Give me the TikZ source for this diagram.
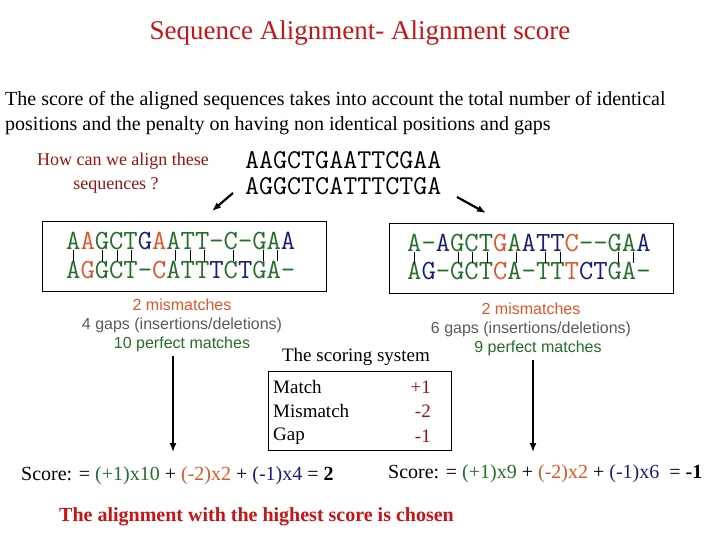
\documentclass[tikz,border=0pt]{standalone}
\usepackage{fontspec}
\usetikzlibrary{arrows.meta}
\setmainfont{Liberation Serif}
\newfontfamily\arialf{Liberation Sans}
\definecolor{sg}{RGB}{35,110,40}
\definecolor{sr}{RGB}{225,85,40}
\definecolor{sb}{RGB}{25,30,120}
\definecolor{tred}{RGB}{200,20,20}
\definecolor{dred}{RGB}{150,20,20}
\definecolor{sgray}{RGB}{90,90,90}
\newcommand{\G}[1]{\textcolor{sg}{#1}}
\newcommand{\R}[1]{\textcolor{sr}{#1}}
\newcommand{\B}[1]{\textcolor{sb}{#1}}
\begin{document}
\begin{tikzpicture}[x=1pt,y=-1pt,
  serif/.style={inner sep=0pt,font=\fontsize{20}{22}\selectfont},
  seq/.style={inner sep=0pt,anchor=west,font=\ttfamily\fontsize{27.8}{30}\selectfont},
  stat/.style={inner sep=0pt,font=\arialf\fontsize{16}{18}\selectfont},
  box/.style={draw,line width=0.9pt},
  arr/.style={-{Latex[length=9pt,width=7pt]},line width=2.2pt}]
\useasboundingbox (0,0) rectangle (720,540);
\node[serif,text=tred,font=\fontsize{27}{30}\selectfont] (title) at (360,33) {Sequence Alignment- Alignment score};
\node[serif,anchor=west] (p1) at (5,101) {The score of the aligned sequences takes into account the total number of identical};
\node[serif,anchor=west] (p2) at (5,126) {positions and the penalty on having non identical positions and gaps};
\node[serif,text=dred,font=\fontsize{18}{20}\selectfont] (q1) at (123,161) {How can we align these};
\node[serif,text=dred,font=\fontsize{18}{20}\selectfont] (q2) at (116,185) {sequences ?};
\node[seq,font=\ttfamily\fontsize{27.2}{30}\selectfont] (s1) at (245,160) {AAGCTGAATTCGAA};
\node[seq,font=\ttfamily\fontsize{27.2}{30}\selectfont] (s2) at (245,186) {AGGCTCATTTCTGA};
\coordinate (la) at (233,193); \coordinate (lb) at (212,211);
\coordinate (ra) at (457,197); \coordinate (rb) at (486,213);
\draw[arr] (la) -- (lb);
\draw[arr] (ra) -- (rb);
% left box
\node[box,minimum width=284pt,minimum height=70pt,anchor=north west] (lbox) at (42,221) {};
\node[seq] (l1) at (66,241) {\G{A}\R{A}\G{GCT}\B{G}\R{A}\G{ATT-C-GA}\B{A}};
\node[seq] (l2) at (66,270) {\G{A}\R{G}\G{GCT-}\R{C}\G{ATT}\B{T}\G{C}\B{T}\G{GA-}};
\foreach \i in {1,3,4,5,8,9,10,12,14,15}
  \draw[line width=0.5pt] ({66+14.58*(\i-0.5)},250) -- ({66+14.58*(\i-0.5)},261);
% right box
\node[box,minimum width=284pt,minimum height=70pt,anchor=north west] (rbox) at (389,223) {};
\node[seq] (r1) at (407,243) {\G{A-}\B{A}\G{GCT}\R{G}\G{A}\B{ATT}\R{C}\G{--GA}\B{A}};
\node[seq] (r2) at (407,271) {\G{A}\B{G}\G{-GCT}\R{C}\G{A-TT}\R{T}\B{CT}\G{GA-}};
\foreach \i in {1,4,5,6,8,10,11,15,16}
  \draw[line width=0.5pt] ({407+14.58*(\i-0.5)},252) -- ({407+14.58*(\i-0.5)},263);
% stats
\node[stat,text=sr] (lm) at (182,305) {2 mismatches};
\node[stat,text=sgray] (lg) at (182,325) {4 gaps (insertions/deletions)};
\node[stat,text=sg] (lp) at (182,344) {10 perfect matches};
\node[stat,text=sr] (rm) at (531,309) {2 mismatches};
\node[stat,text=sgray] (rg) at (531,329) {6 gaps (insertions/deletions)};
\node[stat,text=sg] (rp) at (538,348) {9 perfect matches};
% scoring system
\node[serif,font=\fontsize{19}{21}\selectfont] (ss) at (356,357) {The scoring system};
\node[box,minimum width=183pt,minimum height=79pt,anchor=north west] (tbl) at (268,371) {};
\node[serif,anchor=west,font=\fontsize{19}{21}\selectfont] (m1) at (273,387) {Match};
\node[serif,anchor=west,font=\fontsize{19}{21}\selectfont] (m2) at (273,411) {Mismatch};
\node[serif,anchor=west,font=\fontsize{19}{21}\selectfont] (m3) at (273,436) {Gap};
\node[serif,anchor=east,text=dred,font=\fontsize{19}{21}\selectfont] (v1) at (431,387) {+1};
\node[serif,anchor=east,text=dred,font=\fontsize{19}{21}\selectfont] (v2) at (431,411) {-2};
\node[serif,anchor=east,text=dred,font=\fontsize{19}{21}\selectfont] (v3) at (431,436) {-1};
% vertical arrows
\coordinate (va1) at (173,356); \coordinate (vb1) at (173,452);
\coordinate (va2) at (533,360); \coordinate (vb2) at (533,452);
\draw[-{Latex[length=9pt,width=7pt]},line width=1.6pt] (va1) -- (vb1);
\draw[-{Latex[length=9pt,width=7pt]},line width=1.6pt] (va2) -- (vb2);
% scores
\node[serif,anchor=west] (sc1) at (21,476) {Score: = \G{(+1)x10} + \R{(-2)x2} + \B{(-1)}\B{x4} = \textbf{2}};
\node[serif,anchor=west] (sc2) at (388,474) {Score: = \G{(+1)x9} + \R{(-2)x2} + \B{(-1)x6} \ = \textbf{-1}};
\node[serif,anchor=west,text=tred,font=\bfseries\fontsize{20}{22}\selectfont] (fin) at (59,517) {The alignment with the highest score is chosen};
\end{tikzpicture}
\end{document}
